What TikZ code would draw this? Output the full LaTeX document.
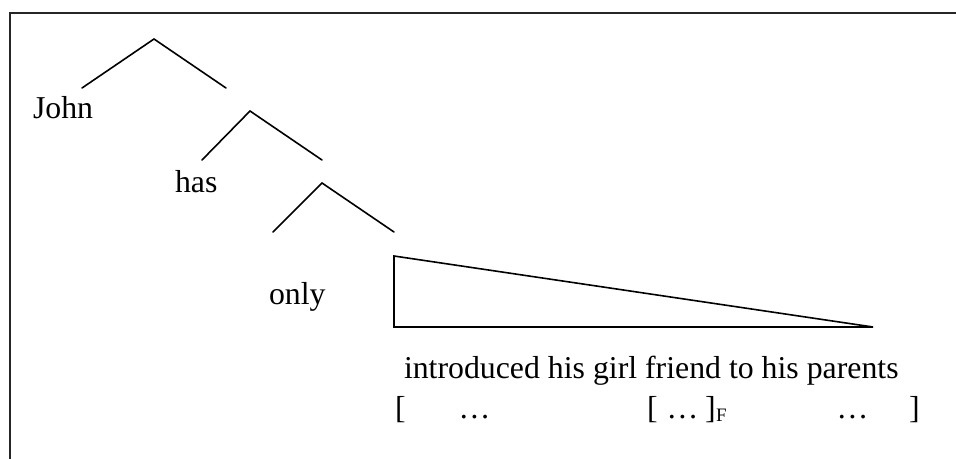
\documentclass[tikz,border=0pt]{standalone}
\usepackage{fontspec}
\setmainfont{Liberation Serif}
\begin{document}
\begin{tikzpicture}[x=1pt,y=-1pt,
  word/.style={anchor=base west,inner sep=0pt,outer sep=0pt,font=\fontsize{31.8}{36}\selectfont},
  sub/.style={anchor=base west,inner sep=0pt,outer sep=0pt,font=\fontsize{19}{22}\selectfont},
  branch/.style={line width=1.6pt,line cap=round,line join=miter},
  frame/.style={line width=2pt,black!85}]
\useasboundingbox (0,0) rectangle (956,458);
% frame (only top and left edges visible)
\coordinate (ftr) at (960,13);
\coordinate (ftl) at (10,13);
\coordinate (fbl) at (10,462);
\draw[frame] (ftr) -- (ftl) -- (fbl);
% tree coordinates
\coordinate (r0) at (154,39);
\coordinate (r0l) at (82,88);
\coordinate (r0r) at (226,88);
\coordinate (r1) at (250,111);
\coordinate (r1l) at (202,160);
\coordinate (r1r) at (322,160);
\coordinate (r2) at (322,183);
\coordinate (r2l) at (273,232);
\coordinate (r2r) at (394,232);
\coordinate (t1) at (394,256);
\coordinate (t2) at (394,327);
\coordinate (t3) at (873,327);
\draw[branch] (r0l) -- (r0) -- (r0r);
\draw[branch] (r1l) -- (r1) -- (r1r);
\draw[branch] (r2l) -- (r2) -- (r2r);
\draw[branch] (t1) -- (t2) -- (t3) -- cycle;
% words
\node[word] (john) at (33,118) {John};
\node[word] (has) at (175,192) {has};
\node[word] (only) at (269,304) {only};
\node[word] (vp) at (404,378) {introduced his girl friend to his parents};
\node[word] (b1) at (395,418) {[};
\node[word] (e1) at (458.5,418) {…};
\node[word] (b2) at (647,418) {[};
\node[word] (e2) at (666.5,418) {…};
\node[word] (b3) at (705,418) {]};
\node[sub] (f) at (716,421) {F};
\node[word] (e3) at (836.5,418) {…};
\node[word] (b4) at (909,418) {]};
\end{tikzpicture}
\end{document}
